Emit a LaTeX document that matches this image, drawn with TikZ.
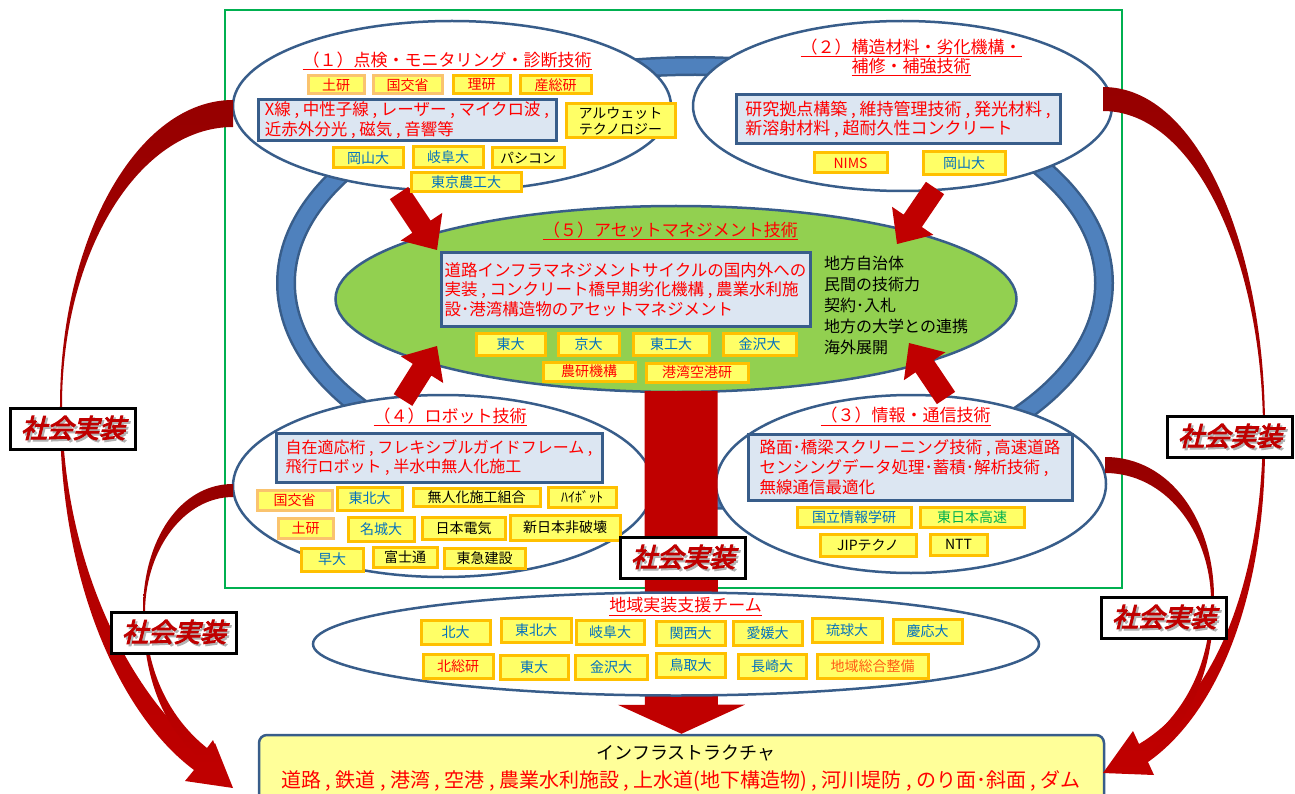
\documentclass[tikz,border=0pt]{standalone}
\usepackage{fontspec}
\setmainfont{Noto Sans CJK JP}
\newfontfamily\labfont[FakeBold=4,FakeSlant=0.25]{Noto Sans CJK JP}
\usetikzlibrary{shapes.geometric,calc}
\definecolor{eblue}{RGB}{56,93,138}
\definecolor{ringblue}{RGB}{79,129,189}
\definecolor{boxfill}{RGB}{220,230,242}
\definecolor{orgfill}{RGB}{255,255,102}
\definecolor{orgline}{RGB}{255,192,0}
\definecolor{orglight}{RGB}{250,195,110}
\definecolor{ured}{RGB}{255,0,0}
\definecolor{ublue}{RGB}{0,112,192}
\definecolor{ugreen}{RGB}{0,176,80}
\definecolor{uorange}{RGB}{255,90,20}
\definecolor{ared}{RGB}{192,0,0}
\definecolor{dred}{RGB}{150,0,0}
\definecolor{lgreen}{RGB}{146,208,80}
\definecolor{infrafill}{RGB}{255,255,153}
\definecolor{greenframe}{RGB}{0,176,80}
\newcommand{\blk}[5]{%
  \coordinate (#1h) at ($(#2)!#5!(#1)$);
  \fill[ared] ($(#1)!#3!90:(#2)$) -- ($(#1h)!#3!90:(#2)$) -- ($(#1h)!#4!90:(#2)$) -- (#2)
    -- ($(#1h)!#4!-90:(#2)$) -- ($(#1h)!#3!-90:(#2)$) -- ($(#1)!#3!-90:(#2)$) -- cycle;}
\newcommand{\shakai}{\makebox[0pt][l]{\hspace{2pt}\raisebox{-2pt}{\textcolor{black!30}{社会実装}}}\textcolor{ared}{社会実装}}
\tikzset{
  ell/.style={ellipse, draw=eblue, line width=2.5pt, fill=white, inner sep=0pt},
  bbox/.style 2 args={draw=eblue, line width=3pt, fill=boxfill, align=left, text=ured, inner sep=0pt, minimum width=#1pt, minimum height=#2pt},
  ob/.style 2 args={draw=orgline, line width=3pt, fill=orgfill, inner sep=0pt, font=\fontsize{14}{16}\selectfont, align=center, minimum width=#1pt, minimum height=#2pt},
  lt/.style={draw=orglight},
  tr/.style={text=ured},
  tb/.style={text=ublue},
  ttl/.style={text=ured, font=\fontsize{17}{19}\selectfont, align=center, inner sep=0pt},
  lab/.style={draw=black, line width=3.5pt, fill=white, minimum width=125pt, minimum height=41pt, inner sep=0pt, font=\labfont\fontsize{26}{28}\selectfont},
  curvearrow/.style={top color=dred, bottom color=ared, draw=none},
}
\begin{document}
\begin{tikzpicture}[x=1pt,y=-1pt]
\useasboundingbox (0,0) rectangle (1295,794);
% frame
\draw[greenframe, line width=2.5pt] (225,10) rectangle (1122,588);
% ring
\draw[eblue, line width=20pt] (695,283) ellipse [x radius=409pt, y radius=217pt];
\draw[ringblue, line width=15pt] (695,283) ellipse [x radius=409pt, y radius=217pt];
% ellipses
\node[ell, minimum width=438pt, minimum height=170pt] (e1) at (452,106) {};
\node[ell, minimum width=419pt, minimum height=170pt] (e2) at (902.5,106) {};
\node[ell, minimum width=390pt, minimum height=178pt] (e3) at (911,484) {};
\node[ell, minimum width=420pt, minimum height=182pt] (e4) at (443,486) {};
\node[ell, fill=lgreen, minimum width=681pt, minimum height=186pt] (e5) at (676,299) {};
% block arrows
\coordinate (a1s) at (399,193); \coordinate (a1t) at (437,250);
\coordinate (a2s) at (935,188); \coordinate (a2t) at (897,244);
\coordinate (a4s) at (403,400); \coordinate (a4t) at (437,346);
\coordinate (a3s) at (946,398); \coordinate (a3t) at (909,343);
\blk{a1s}{a1t}{11pt}{25pt}{28pt}
\blk{a2s}{a2t}{11pt}{25pt}{28pt}
\blk{a4s}{a4t}{11pt}{25pt}{28pt}
\blk{a3s}{a3t}{11pt}{25pt}{28pt}
% infrastructure box
\node[draw=eblue, line width=2.5pt, fill=infrafill, rounded corners=8pt, minimum width=845pt, minimum height=75pt] (infra) at (681.5,772.5) {};
% central arrow
\coordinate (cS) at (681,391);
\blk{cS}{infra.north}{36.5pt}{63.5pt}{29pt}
% regional ellipse
\node[ell, minimum width=726pt, minimum height=103pt] (e6) at (676,644) {};

% ---- (1)
\node[ttl] (t1) at (447,61) {\underline{（１）点検・モニタリング・診断技術}};
\node[ob={56}{18}, lt, tr] (o11) at (336,85) {土研};
\node[ob={69}{18}, lt, tr] (o12) at (407.5,85) {国交省};
\node[ob={57}{18}, tr] (o13) at (481.5,85) {理研};
\node[ob={71}{18}, tr] (o14) at (555.5,85) {産総研};
\node[bbox={298}{41}, font=\fontsize{16.5}{20}\selectfont] (b1) at (407,120.5) {X線 , 中性子線 , レーザー , マイクロ波 ,\\近赤外分光 , 磁気 , 音響等};
\node[ob={109}{34}] (o15) at (620.5,121) {アルウェット\\テクノロジー};
\node[ob={70}{20}, tb] (o16) at (368,158) {岡山大};
\node[ob={70}{21}, tb] (o17) at (448,157.5) {岐阜大};
\node[ob={72}{20}] (o18) at (528,158) {パシコン};
\node[ob={110}{19}, tb] (o19) at (466,182.5) {東京農工大};

% ---- (2)
\node[ttl] (t2) at (911,57.5) {\underline{（２）構造材料・劣化機構・}\\\underline{補修・補強技術}};
\node[bbox={324}{49}, font=\fontsize{17}{18.5}\selectfont] (b2) at (898,119.5) {研究拠点構築 , 維持管理技術 , 発光材料 ,\\新溶射材料 , 超耐久性コンクリート};
\node[ob={73}{20}, tr] (o21) at (850.5,163) {NIMS};
\node[ob={82}{23}, tb] (o22) at (964,163.5) {岡山大};

% ---- (5)
\node[ttl] (t5) at (670.5,231) {\underline{（５）アセットマネジメント技術}};
\node[bbox={369}{73}, font=\fontsize{16.5}{19.5}\selectfont] (b5) at (625.5,289.5) {道路インフラマネジメントサイクルの国内外への\\実装 , コンクリート橋早期劣化機構 , 農業水利施\\設･港湾構造物のアセットマネジメント};
\node[anchor=west, align=left, inner sep=0pt, font=\fontsize{16}{21}\selectfont] (r5) at (824,305) {地方自治体\\民間の技術力\\契約･入札\\地方の大学との連携\\海外展開};
\node[ob={69}{22}, tb] (o51) at (510.5,344) {東大};
\node[ob={61}{22}, tb] (o52) at (588.5,344) {京大};
\node[ob={76}{22}, tb] (o53) at (671,344) {東工大};
\node[ob={73}{22}, tb] (o54) at (759.5,344) {金沢大};
\node[ob={92}{19}, tr] (o55) at (589,371.5) {農研機構};
\node[ob={102}{19}, tr] (o56) at (697,372.5) {港湾空港研};

% ---- (4)
\node[ttl] (t4) at (450,417) {\underline{（４）ロボット技術}};
\node[bbox={326}{49}, font=\fontsize{16}{18.5}\selectfont] (b4) at (439,457.5) {自在適応桁 , フレキシブルガイドフレーム ,\\飛行ロボット , 半水中無人化施工};
\node[ob={75}{20}, lt, tr] (o41) at (294.5,500) {国交省};
\node[ob={65}{23}, tb] (o42) at (369.5,498.5) {東北大};
\node[ob={127}{18}] (o43) at (476.5,497) {無人化施工組合};
\node[ob={68}{20}] (o44) at (582,497) {ﾊｲﾎﾞｯﾄ};
\node[ob={55}{20}, lt, tr] (o45) at (305.5,528) {土研};
\node[ob={66}{24}, tb] (o46) at (381,529) {名城大};
\node[ob={83}{22}] (o47) at (463.5,528) {日本電気};
\node[ob={110}{25}] (o48) at (565,527.5) {新日本非破壊};
\node[ob={62}{23}, tb] (o49) at (332,559.5) {早大};
\node[ob={64}{20}] (o4a) at (405,557) {富士通};
\node[ob={81}{20}] (o4b) at (484.5,558) {東急建設};

% ---- (3)
\node[ttl] (t3) at (905.5,416.5) {\underline{（３）情報・通信技術}};
\node[bbox={324}{66}, font=\fontsize{16.5}{20}\selectfont] (b3) at (910,467) {路面･橋梁スクリーニング技術 , 高速道路\\センシングデータ処理･蓄積･解析技術 ,\\無線通信最適化};
\node[ob={114}{20}, tb] (o31) at (854,517) {国立情報学研};
\node[ob={104}{20}, text=ugreen] (o32) at (972,517) {東日本高速};
\node[ob={96}{22}] (o33) at (868,545) {JIPテクノ};
\node[ob={57}{21}] (o34) at (958.5,544.5) {NTT};

% ---- regional team
\node[ttl] (t6) at (685.5,606.5) {\underline{地域実装支援チーム}};
\node[ob={69}{24}, tb] (o61) at (455.5,632) {北大};
\node[ob={70}{24}, tb] (o62) at (536,630.5) {東北大};
\node[ob={68}{24}, tb] (o63) at (610,632) {岐阜大};
\node[ob={69}{24}, tb] (o64) at (690.5,633.5) {関西大};
\node[ob={69}{24}, tb] (o65) at (767.5,633) {愛媛大};
\node[ob={70}{24}, tb] (o66) at (847,630.5) {琉球大};
\node[ob={69}{24}, tb] (o67) at (927.5,631) {慶応大};
\node[ob={70}{24}, tr] (o68) at (458,666) {北総研};
\node[ob={68}{24}, tb] (o69) at (534,667) {東大};
\node[ob={72}{24}, tb] (o6a) at (611,667) {金沢大};
\node[ob={69}{24}, tb] (o6b) at (690.5,665) {鳥取大};
\node[ob={68}{24}, tb] (o6c) at (772,666) {長崎大};
\node[ob={111}{24}, text=uorange] (o6d) at (872.5,666) {地域総合整備};

% ---- infrastructure text
\node[inner sep=0pt, font=\fontsize{18}{20}\selectfont] (it1) at (686,753) {インフラストラクチャ};
\node[inner sep=0pt, text=ured, font=\fontsize{20}{22}\selectfont] (it2) at (681,781) {道路 , 鉄道 , 港湾 , 空港 , 農業水利施設 , 上水道(地下構造物) , 河川堤防 , のり面･斜面 , ダム};

% ---- curved arrows
\shade[curvearrow] (233,100) .. controls (138,100) and (60,237) .. (60,406) .. controls (58,580) and (120,715) .. (194,770) -- (185,781) -- (233,788) -- (215,743) -- (206,754) .. controls (135,700) and (63,570) .. (62,406) .. controls (62,252) and (139,127) .. (233,127) -- cycle;
\shade[curvearrow] (233,484) .. controls (180,484) and (143,540) .. (143,611) .. controls (143,680) and (165,728) .. (198,756) -- (193,762) -- (225,772) -- (213,740) -- (207,748) .. controls (172,720) and (146,675) .. (145,611) .. controls (146,548) and (185,497) .. (233,497) -- cycle;
\shade[curvearrow] (1103,87) .. controls (1200,87) and (1265,250) .. (1265,428) .. controls (1268,600) and (1215,715) .. (1148,762) -- (1154,775) -- (1103,773) -- (1133,731) -- (1139,744) .. controls (1205,705) and (1262,600) .. (1263,428) .. controls (1262,260) and (1195,111) .. (1103,111) -- cycle;
\shade[curvearrow] (1105,457) .. controls (1170,457) and (1214,520) .. (1214,598) .. controls (1214,670) and (1192,720) .. (1150,752) -- (1144,744) .. controls (1185,712) and (1211,665) .. (1211,598) .. controls (1209,530) and (1165,473) .. (1105,473) -- cycle;

% ---- labels
\node[lab] (l1) at (73,429) {\shakai};
\node[lab] (l2) at (174,633) {\shakai};
\node[lab] (l3) at (1230,437) {\shakai};
\node[lab] (l4) at (1164,618) {\shakai};
\node[lab] (l5) at (683,558) {\shakai};
\end{tikzpicture}
\end{document}
